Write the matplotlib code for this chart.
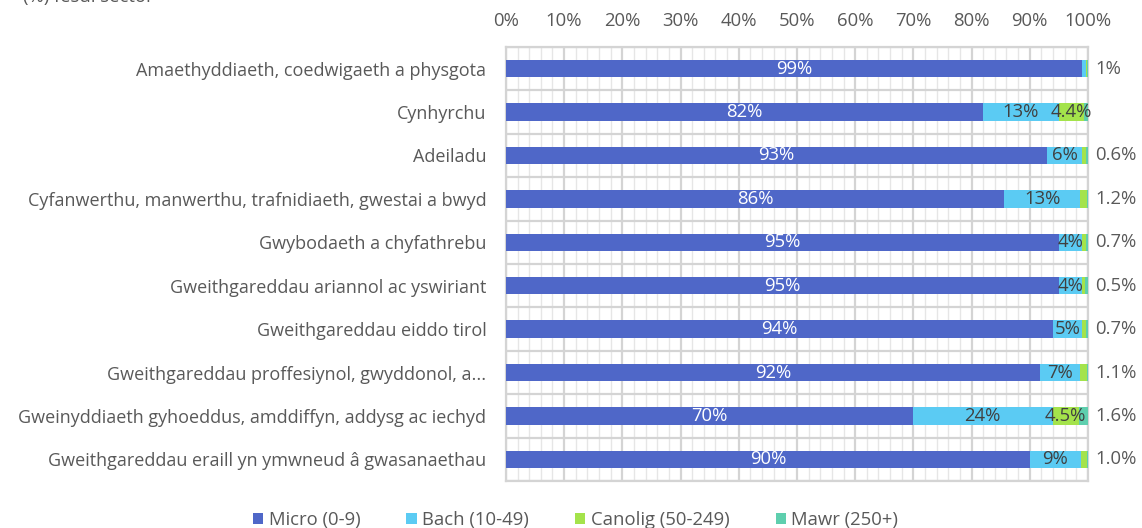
import matplotlib.pyplot as plt
from matplotlib.ticker import MultipleLocator, PercentFormatter
import numpy as np

plt.rcParams['font.family'] = ['Open Sans', 'DejaVu Sans']

# Data
sectorau = [
    'Amaethyddiaeth, coedwigaeth a physgota',
    'Cynhyrchu',
    'Adeiladu',
    'Cyfanwerthu, manwerthu, trafnidiaeth, gwestai a bwyd',
    'Gwybodaeth a chyfathrebu',
    'Gweithgareddau ariannol ac yswiriant',
    'Gweithgareddau eiddo tirol',
    'Gweithgareddau proffesiynol, gwyddonol, a...',
    'Gweinyddiaeth gyhoeddus, amddiffyn, addysg ac iechyd',
    'Gweithgareddau eraill yn ymwneud â gwasanaethau',
]
micro = [99, 82, 93, 86, 95, 95, 94, 92, 70, 90]
bach = [0.7, 13, 6, 13, 4, 4, 5, 7, 24, 8.8]
canolig = [0.2, 4.4, 0.6, 1.2, 0.7, 0.5, 0.7, 1.1, 4.5, 1.0]
mawr = [0.1, 0.6, 0.4, 0.2, 0.3, 0.5, 0.3, 0.2, 1.6, 0.2]
labeli_micro = ['99%', '82%', '93%', '86%', '95%', '95%', '94%', '92%', '70%', '90%']
labeli_bach = ['', '13%', '6%', '13%', '4%', '4%', '5%', '7%', '24%', '9%']
labeli_canolig = ['', '4.4%', '', '', '', '', '', '', '4.5%', '']
labeli_dde = ['1%', '', '0.6%', '1.2%', '0.7%', '0.5%', '0.7%', '1.1%', '1.6%', '1.0%']
enwau = ['Micro (0-9)', 'Bach (10-49)', 'Canolig (50-249)', 'Mawr (250+)']
lliwiau = ['#4F67C8', '#5BCBF3', '#A4E34B', '#5ECFAE']

FS = 13.3
LLWYD = '#595959'

# 100% stacked, fel yn Excel
data = np.array([micro, bach, canolig, mawr], dtype=float)
cyfran = data / data.sum(axis=0) * 100

fig = plt.figure(figsize=(11.42, 5.28), dpi=100)
ax = fig.add_axes([0.443, 0.089, 0.5097, 0.822])

y = np.arange(len(sectorau))
chwith = np.zeros(len(sectorau))
bariau = []
for i in range(4):
    b = ax.barh(y, cyfran[i], left=chwith, height=0.4, color=lliwiau[i],
                label=enwau[i], zorder=3)
    bariau.append(b)
    chwith += cyfran[i]

ax.bar_label(bariau[0], labels=labeli_micro, label_type='center',
             color='white', fontsize=FS)
ax.bar_label(bariau[1], labels=labeli_bach, label_type='center',
             color='#404040', fontsize=FS)
ax.bar_label(bariau[2], labels=labeli_canolig, label_type='center',
             color='#404040', fontsize=FS)
for yi, t in zip(y, labeli_dde):
    ax.text(101.3, yi, t, va='center', ha='left', color=LLWYD, fontsize=FS)

ax.set_xlim(0, 100)
ax.set_ylim(len(sectorau) - 0.5, -0.5)
ax.xaxis.set_major_locator(MultipleLocator(10))
ax.xaxis.set_minor_locator(MultipleLocator(2))
ax.xaxis.set_major_formatter(PercentFormatter(decimals=0))
ax.xaxis.tick_top()
ax.set_yticks(y)
ax.set_yticklabels(sectorau, fontsize=13.0)
ax.set_yticks(np.arange(len(sectorau) + 1) - 0.5, minor=True)
ax.tick_params(axis='both', which='both', length=0, colors=LLWYD)
ax.tick_params(axis='x', labelsize=FS, pad=12)
ax.tick_params(axis='y', pad=14)

ax.grid(axis='x', which='major', color='#D4D4D4', lw=1.6, zorder=1)
ax.grid(axis='x', which='minor', color='#E6E6E6', lw=1.0, zorder=1)
ax.grid(axis='y', which='minor', color='#D4D4D4', lw=1.6, zorder=1)
for s in ax.spines.values():
    s.set_color('#D4D4D4')
    s.set_linewidth(1.6)

fig.legend(handles=bariau, labels=enwau, loc='lower center', ncol=4,
           bbox_to_anchor=(0.504, -0.033), frameon=False, fontsize=FS,
           handlelength=0.55, handleheight=0.55, handletextpad=0.3,
           columnspacing=2.5, labelcolor=LLWYD)

fig.text(0.02, 1.005, '(%) fesul sector', ha='left', va='center',
         color=LLWYD, fontsize=FS)

fig.savefig('out.png', dpi=100)
